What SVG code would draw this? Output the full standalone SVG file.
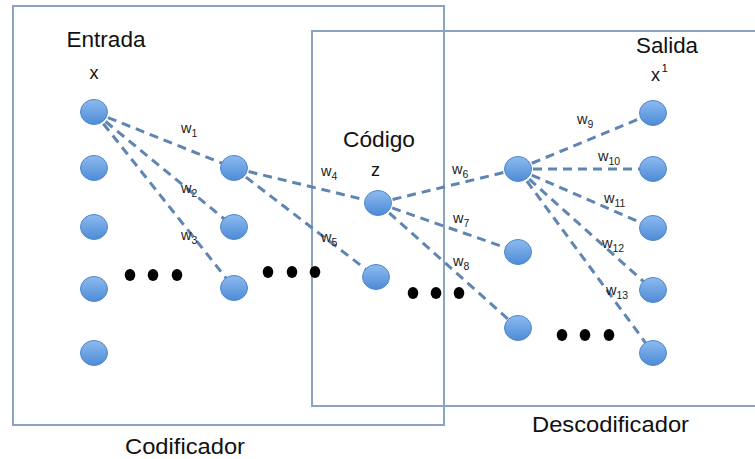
<svg xmlns="http://www.w3.org/2000/svg" width="755" height="459" viewBox="0 0 755 459">
  <defs>
    <linearGradient id="nodeFill" x1="0" y1="0" x2="0" y2="1">
      <stop offset="0" stop-color="#8dbbef"/>
      <stop offset="1" stop-color="#4d8bd6"/>
    </linearGradient>
  </defs>
  <style>
    .frame { fill: none; stroke: #8aa3c3; stroke-width: 2; }
    .edge { stroke: #5f85b2; stroke-width: 3; stroke-dasharray: 9 6; fill: none; }
    .node { fill: url(#nodeFill); stroke: #5287c8; stroke-width: 1; }
    .dot { fill: #000; }
    .title { font-family: "Liberation Sans", Arial, sans-serif; font-size: 21.5px; fill: #111; }
    .var { font-family: "Liberation Sans", Arial, sans-serif; font-size: 18px; fill: #111; }
    .w { font-family: "Liberation Sans", Arial, sans-serif; font-size: 14.5px; fill: #222; }
    .sub { font-size: 10.5px; }
  </style>

  <rect width="755" height="459" fill="#ffffff"/>

  <!-- encoder / decoder frames -->
  <g id="frames">
    <rect class="frame" x="13" y="6" width="431" height="419"/>
    <rect class="frame" x="312" y="31" width="460" height="375"/>
  </g>

  <!-- dashed weighted connections -->
  <g id="connectors">
    <line class="edge" x1="94" y1="112" x2="234" y2="168"/>
    <line class="edge" x1="94" y1="112" x2="234" y2="227"/>
    <line class="edge" x1="94" y1="112" x2="234" y2="288"/>
    <line class="edge" x1="234" y1="168" x2="378" y2="203"/>
    <line class="edge" x1="234" y1="168" x2="376" y2="277"/>
    <line class="edge" x1="378" y1="203" x2="518" y2="169"/>
    <line class="edge" x1="378" y1="203" x2="518" y2="252"/>
    <line class="edge" x1="378" y1="203" x2="518" y2="328"/>
    <line class="edge" x1="518" y1="169" x2="653" y2="113"/>
    <line class="edge" x1="518" y1="169" x2="653" y2="169"/>
    <line class="edge" x1="518" y1="169" x2="653" y2="228"/>
    <line class="edge" x1="518" y1="169" x2="653" y2="290"/>
    <line class="edge" x1="518" y1="169" x2="653" y2="353"/>
  </g>

  <!-- input layer x -->
  <g id="in1"><ellipse class="node" cx="94" cy="112" rx="13.5" ry="12.5"/></g>
  <g id="in2"><ellipse class="node" cx="94" cy="168" rx="13.5" ry="12.5"/></g>
  <g id="in3"><ellipse class="node" cx="94" cy="227" rx="13.5" ry="12.5"/></g>
  <g id="in4"><ellipse class="node" cx="94" cy="289" rx="13.5" ry="12.5"/></g>
  <g id="in5"><ellipse class="node" cx="94" cy="353" rx="13.5" ry="12.5"/></g>

  <!-- encoder hidden layer -->
  <g id="enc1"><ellipse class="node" cx="234" cy="168" rx="13.5" ry="12.5"/></g>
  <g id="enc2"><ellipse class="node" cx="234" cy="227" rx="13.5" ry="12.5"/></g>
  <g id="enc3"><ellipse class="node" cx="234" cy="288" rx="13.5" ry="12.5"/></g>

  <!-- code layer z -->
  <g id="code1"><ellipse class="node" cx="378" cy="203" rx="13.5" ry="12.5"/></g>
  <g id="code2"><ellipse class="node" cx="376" cy="277" rx="13.5" ry="12.5"/></g>

  <!-- decoder hidden layer -->
  <g id="dec1"><ellipse class="node" cx="518" cy="169" rx="13.5" ry="12.5"/></g>
  <g id="dec2"><ellipse class="node" cx="518" cy="252" rx="13.5" ry="12.5"/></g>
  <g id="dec3"><ellipse class="node" cx="518" cy="328" rx="13.5" ry="12.5"/></g>

  <!-- output layer x^1 -->
  <g id="out1"><ellipse class="node" cx="653" cy="113" rx="13.5" ry="12.5"/></g>
  <g id="out2"><ellipse class="node" cx="653" cy="169" rx="13.5" ry="12.5"/></g>
  <g id="out3"><ellipse class="node" cx="653" cy="228" rx="13.5" ry="12.5"/></g>
  <g id="out4"><ellipse class="node" cx="653" cy="290" rx="13.5" ry="12.5"/></g>
  <g id="out5"><ellipse class="node" cx="653" cy="353" rx="13.5" ry="12.5"/></g>

  <!-- ellipsis markers -->
  <g id="ellipses">
    <ellipse class="dot" cx="130" cy="275" rx="5.3" ry="6"/>
    <ellipse class="dot" cx="153" cy="275" rx="5.3" ry="6"/>
    <ellipse class="dot" cx="177" cy="275" rx="5.3" ry="6"/>
    <ellipse class="dot" cx="268" cy="272" rx="5.3" ry="6"/>
    <ellipse class="dot" cx="292" cy="272" rx="5.3" ry="6"/>
    <ellipse class="dot" cx="315" cy="272" rx="5.3" ry="6"/>
    <ellipse class="dot" cx="413" cy="293" rx="5.3" ry="6"/>
    <ellipse class="dot" cx="436" cy="293" rx="5.3" ry="6"/>
    <ellipse class="dot" cx="459" cy="293" rx="5.3" ry="6"/>
    <ellipse class="dot" cx="562" cy="335" rx="5.3" ry="6"/>
    <ellipse class="dot" cx="585" cy="335" rx="5.3" ry="6"/>
    <ellipse class="dot" cx="609" cy="335" rx="5.3" ry="6"/>
  </g>

  <!-- section titles -->
  <g id="titles">
    <text class="title" x="66.5" y="47" textLength="79" lengthAdjust="spacingAndGlyphs">Entrada</text>
    <text class="title" x="343" y="147" textLength="72" lengthAdjust="spacingAndGlyphs">Código</text>
    <text class="title" x="636" y="53" textLength="62" lengthAdjust="spacingAndGlyphs">Salida</text>
    <text class="title" x="125" y="454" textLength="120" lengthAdjust="spacingAndGlyphs">Codificador</text>
    <text class="title" x="532" y="432" textLength="157" lengthAdjust="spacingAndGlyphs">Descodificador</text>
  </g>

  <!-- layer variables -->
  <g id="vars">
    <text class="var" x="89.5" y="79">x</text>
    <text class="var" x="371" y="176">z</text>
    <text class="var" x="651" y="81">x<tspan font-size="11.5" dx="1.5" dy="-9">1</tspan></text>
  </g>

  <!-- weight labels -->
  <g id="weights">
    <text class="w" x="181" y="133">w<tspan class="sub" dy="3.5">1</tspan></text>
    <text class="w" x="181" y="193">w<tspan class="sub" dy="3.5">2</tspan></text>
    <text class="w" x="181" y="240">w<tspan class="sub" dy="3.5">3</tspan></text>
    <text class="w" x="321" y="176">w<tspan class="sub" dy="3.5">4</tspan></text>
    <text class="w" x="321" y="242">w<tspan class="sub" dy="3.5">5</tspan></text>
    <text class="w" x="452" y="174">w<tspan class="sub" dy="3.5">6</tspan></text>
    <text class="w" x="453" y="223">w<tspan class="sub" dy="3.5">7</tspan></text>
    <text class="w" x="453" y="266">w<tspan class="sub" dy="3.5">8</tspan></text>
    <text class="w" x="577" y="124">w<tspan class="sub" dy="3.5">9</tspan></text>
    <text class="w" x="598" y="161">w<tspan class="sub" dy="3.5">10</tspan></text>
    <text class="w" x="604" y="203">w<tspan class="sub" dy="3.5">11</tspan></text>
    <text class="w" x="602" y="248">w<tspan class="sub" dy="3.5">12</tspan></text>
    <text class="w" x="606" y="295">w<tspan class="sub" dy="3.5">13</tspan></text>
  </g>
</svg>
